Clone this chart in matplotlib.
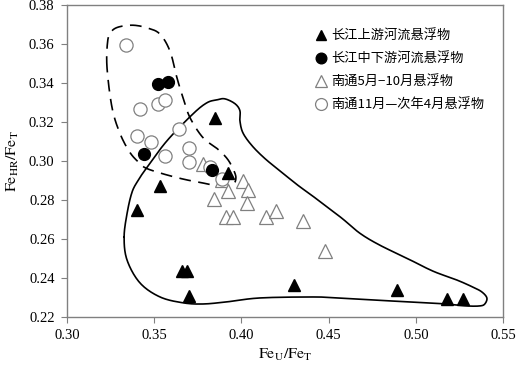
import matplotlib
matplotlib.use("Agg")
import numpy as np
import matplotlib.pyplot as plt
import matplotlib.ticker as mtick

# Data
upper_x = [0.385, 0.392, 0.353, 0.340, 0.366, 0.369, 0.370, 0.430, 0.489, 0.518, 0.527]
upper_y = [0.322, 0.294, 0.287, 0.275, 0.2435, 0.2435, 0.2305, 0.2364, 0.2338, 0.2292, 0.2292]

lower_x = [0.352, 0.358, 0.344, 0.383]
lower_y = [0.3396, 0.3406, 0.3038, 0.2956]

summer_x = [0.378, 0.389, 0.392, 0.401, 0.404, 0.384, 0.403, 0.391, 0.395, 0.414, 0.420, 0.435, 0.448]
summer_y = [0.2987, 0.2905, 0.2844, 0.2895, 0.2849, 0.2803, 0.2782, 0.2711, 0.2711, 0.2711, 0.2742, 0.269, 0.2537]

winter_x = [0.334, 0.352, 0.356, 0.342, 0.364, 0.340, 0.348, 0.356, 0.370, 0.370, 0.382, 0.389]
winter_y = [0.3595, 0.3294, 0.3314, 0.3268, 0.3166, 0.313, 0.310, 0.3028, 0.3069, 0.2997, 0.297, 0.291]

# Hand-drawn enclosing outlines (data coordinates, closed loops)
solid_x = [0.3327, 0.3344, 0.3372, 0.3407, 0.3458, 0.3573, 0.3722, 0.3802, 0.3860, 0.3905,
           0.3963, 0.3991, 0.3991, 0.4008, 0.4060, 0.4135, 0.4232, 0.4324, 0.4404, 0.4478,
           0.4576, 0.4679, 0.4793, 0.4948, 0.5097, 0.5235, 0.5326, 0.5378, 0.5407, 0.5395,
           0.5366, 0.5292, 0.5177, 0.4948, 0.4753, 0.4564, 0.4410, 0.4106, 0.3917, 0.3779,
           0.3665, 0.3533, 0.3418, 0.3344]
solid_y = [0.2609, 0.2731, 0.2839, 0.2900, 0.2967, 0.3104, 0.3242, 0.3299, 0.3314, 0.3319,
           0.3294, 0.3258, 0.3207, 0.3145, 0.3079, 0.3012, 0.2941, 0.2875, 0.2823, 0.2772,
           0.2706, 0.2629, 0.2568, 0.2501, 0.2435, 0.2389, 0.2353, 0.2328, 0.2297, 0.2266,
           0.2256, 0.2256, 0.2266, 0.2277, 0.2287, 0.2297, 0.2302, 0.2297, 0.2277, 0.2266,
           0.2272, 0.2302, 0.2374, 0.2491]

dash_x = [0.3229, 0.3232, 0.3250, 0.3292, 0.3378, 0.3464, 0.3533, 0.3590, 0.3630, 0.3665,
          0.3705, 0.3779, 0.3860, 0.3917, 0.3951, 0.3968, 0.3951, 0.3888, 0.3791, 0.3676,
          0.3562, 0.3458, 0.3418, 0.3361, 0.3304, 0.3258]
dash_y = [0.3478, 0.3610, 0.3660, 0.3687, 0.3697, 0.3682, 0.3651, 0.3564, 0.3427, 0.3324,
          0.3222, 0.3120, 0.3064, 0.3013, 0.2961, 0.2915, 0.2880, 0.2869, 0.2885, 0.2905,
          0.2931, 0.2961, 0.2987, 0.3043, 0.3140, 0.3273]

labels = ["长江上游河流悬浮物", "长江中下游河流悬浮物", "南通5月−10月悬浮物", "南通11月—次年4月悬浮物"]


def smooth_loop(xs, ys, n=12):
    # closed Catmull-Rom through the traced outline points
    p = np.column_stack([xs, ys])
    m = len(p)
    out = []
    t = np.linspace(0, 1, n, endpoint=False)[:, None]
    for i in range(m):
        p0, p1, p2, p3 = p[i - 1], p[i], p[(i + 1) % m], p[(i + 2) % m]
        seg = 0.5 * (2 * p1 + (-p0 + p2) * t + (2 * p0 - 5 * p1 + 4 * p2 - p3) * t ** 2
                     + (-p0 + 3 * p1 - 3 * p2 + p3) * t ** 3)
        out.append(seg)
    out.append(p[:1])
    out = np.vstack(out)
    return out[:, 0], out[:, 1]


plt.rcParams["font.family"] = ["Liberation Serif", "Noto Sans CJK SC", "DejaVu Sans"]
plt.rcParams["mathtext.fontset"] = "stix"

fig = plt.figure(figsize=(5.16, 3.68), dpi=100)
ax = fig.add_axes([0.130, 0.139, 0.845, 0.847])

sx, sy = smooth_loop(solid_x, solid_y)
dx, dy = smooth_loop(dash_x, dash_y)
ax.plot(sx, sy, color="black", lw=1.2, zorder=1)
ax.plot(dx, dy, color="black", lw=1.2, ls=(0, (7, 4.5)), zorder=1)

gray = "#808080"
ax.plot(upper_x, upper_y, "^", color="black", ms=8, ls="none", label=labels[0], zorder=3)
ax.plot(lower_x, lower_y, "o", color="black", ms=8.5, ls="none", label=labels[1], zorder=3)
ax.plot(summer_x, summer_y, "^", mfc="white", mec=gray, mew=0.9, ms=10, ls="none",
        label=labels[2], zorder=2)
ax.plot(winter_x, winter_y, "o", mfc="white", mec=gray, mew=0.9, ms=9.5, ls="none",
        label=labels[3], zorder=2)

ax.set_xlim(0.30, 0.55)
ax.set_ylim(0.22, 0.38)
ax.set_xticks([0.30, 0.35, 0.40, 0.45, 0.50, 0.55])
ax.set_yticks([0.22, 0.24, 0.26, 0.28, 0.30, 0.32, 0.34, 0.36, 0.38])
ax.xaxis.set_major_formatter(mtick.FormatStrFormatter("%.2f"))
ax.yaxis.set_major_formatter(mtick.FormatStrFormatter("%.2f"))
ax.tick_params(direction="out", length=4, width=0.8, color=gray, labelsize=10.5, pad=5)
for s in ax.spines.values():
    s.set_color(gray)
    s.set_linewidth(1.0)

ax.set_xlabel(r"$\mathrm{Fe_U/Fe_T}$", fontsize=11.5, labelpad=3)
ax.set_ylabel(r"$\mathrm{Fe_{HR}/Fe_T}$", fontsize=11.5, labelpad=6)

ax.legend(loc="upper left", bbox_to_anchor=(0.54, 0.96), frameon=False,
          handletextpad=0.3, labelspacing=0.75, handlelength=1.0, markerscale=0.9,
          prop={"family": ["Noto Sans CJK SC", "DejaVu Sans"], "size": 9.5})

fig.savefig("out.png", dpi=100)
